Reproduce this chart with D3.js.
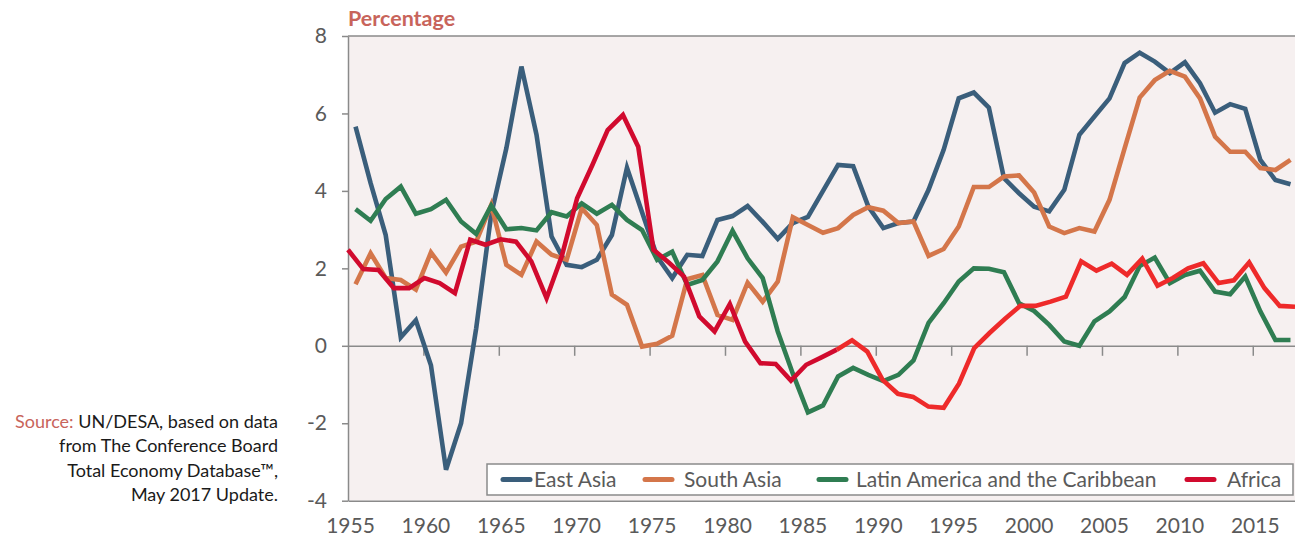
<!DOCTYPE html>
<meta charset="utf-8">

<style>
body {
  margin: 0;
  background: #fff;
}

.axis text, .legend text {
  font-family: Lato, "Open Sans", sans-serif;
  font-size: 21px;
  fill: #5a5a5a;
}

.axis path, .axis line, .frame {
  stroke: #8a8a8a;
  stroke-width: 1.5;
  fill: none;
}

.title text {
  font-family: Lato, "Open Sans", sans-serif;
  font-weight: 700;
  font-size: 21.5px;
  fill: #c8645b;
}

.source text {
  font-family: Lato, "Open Sans", sans-serif;
  font-size: 18px;
  fill: #1a1a1a;
}
</style>

<svg class="chart"></svg>

<script src="https://d3js.org/d3.v7.min.js"></script>
<script>

  // years on the x axis, one value per year for every series
  var years = d3.range(1955, 2018);
  var tickYears = [1955, 1960, 1965, 1970, 1975, 1980, 1985, 1990, 1995, 2000, 2005, 2010, 2015];
  var tickValuesY = [-4, -2, 0, 2, 4, 6, 8];

  var eastAsia = [
    5.66, 4.2, 2.86, 0.22, 0.66, -0.5, -3.2, -2.0, 0.45, 3.4,
    5.1, 7.21, 5.45, 2.82, 2.09, 2.03, 2.22, 2.86, 4.6, 3.45,
    2.3, 1.75, 2.35, 2.32, 3.25, 3.35, 3.61, 3.2, 2.76, 3.17,
    3.33, 4.0, 4.67, 4.64, 3.6, 3.04, 3.17, 3.21, 4.03, 5.06,
    6.39, 6.54, 6.15, 4.33, 3.94, 3.59, 3.47, 4.03, 5.45, 5.92,
    6.39, 7.3, 7.57, 7.34, 7.04, 7.32, 6.78, 6.02, 6.24, 6.12,
    4.8, 4.28, 4.17
  ];

  var southAsia = [
    1.59, 2.39, 1.75, 1.70, 1.45, 2.41, 1.89, 2.56, 2.69, 3.64,
    2.09, 1.83, 2.69, 2.35, 2.22, 3.55, 3.12, 1.32, 1.06, -0.02,
    0.05, 0.26, 1.72, 1.83, 0.8, 0.67, 1.63, 1.14, 1.66, 3.32,
    3.12, 2.92, 3.04, 3.38, 3.58, 3.49, 3.17, 3.21, 2.32, 2.5,
    3.08, 4.1, 4.1, 4.37, 4.4, 3.96, 3.08, 2.91, 3.04, 2.95,
    3.77, 5.1, 6.41, 6.86, 7.1, 6.95, 6.39, 5.4, 5.01, 5.01,
    4.59, 4.54, 4.8
  ];

  var latinAmerica = [
    3.53, 3.23, 3.79, 4.11, 3.41, 3.53, 3.77, 3.21, 2.89, 3.62,
    3.01, 3.04, 2.98, 3.45, 3.34, 3.68, 3.41, 3.64, 3.25, 2.99,
    2.22, 2.43, 1.57, 1.70, 2.18, 2.97, 2.26, 1.75, 0.37, -0.72,
    -1.72, -1.54, -0.79, -0.57, -0.75, -0.91, -0.75, -0.38, 0.59, 1.10,
    1.66, 2.0, 1.99, 1.9, 1.1, 0.9, 0.54, 0.11, 0.0, 0.63,
    0.89, 1.26, 2.06, 2.28, 1.62, 1.83, 1.94, 1.4, 1.33, 1.79,
    0.89, 0.15, 0.15
  ];

  var africa = [
    2.48, 1.98, 1.96, 1.49, 1.49, 1.75, 1.62, 1.36, 2.74, 2.61,
    2.75, 2.69, 2.18, 1.23, 2.32, 3.81, 4.67, 5.57, 5.96, 5.14,
    2.48, 2.15, 1.79, 0.76, 0.37, 1.08, 0.11, -0.45, -0.47, -0.9,
    -0.49, -0.3, -0.1, 0.14, -0.15, -0.88, -1.24, -1.32, -1.57, -1.6,
    -0.98, -0.06, 0.33, 0.69, 1.03, 1.03, 1.14, 1.27, 2.18, 1.94,
    2.12, 1.83, 2.25, 1.55, 1.75, 2.0, 2.13, 1.62, 1.69, 2.15,
    1.49, 1.03, 1.01
  ];

  var seriesNames = ["East Asia", "South Asia", "Latin America and the Caribbean", "Africa"];
  var seriesColors = ["#3a5e7b", "#d4764a", "#2f7d52", "#d10a2e"];
  var africaLateColor = "#ee2a2a";
  var africaColorBreak = 1987;

  var sourceLines = [
    "UN/DESA, based on data",
    "from The Conference Board",
    "Total Economy Database\u2122,",
    "May 2017 Update."
  ];

  var outerWidth  = 1295;
  var outerHeight = 538;

  var plot = {
    left: 348,
    top: 36,
    right: 1295,
    bottom: 500.7
  };

  var svg = d3.select(".chart")
      .attr("width", outerWidth)
      .attr("height", outerHeight);

  var xScale = d3.scaleLinear()
      .domain([1955, 2017.8])
      .range([plot.left, plot.right]);

  // Africa is plotted across the full width in the original
  var africaX = d3.scaleLinear()
      .domain([1955, 2017])
      .range([plot.left, plot.right]);

  var yScale = d3.scaleLinear()
      .domain([-4, 8])
      .range([plot.bottom, plot.top]);

  svg.append("rect")
      .attr("x", plot.left)
      .attr("y", plot.top)
      .attr("width", plot.right - plot.left)
      .attr("height", plot.bottom - plot.top)
      .attr("fill", "#f6f0f0");

  svg.append("line")
      .attr("class", "frame")
      .attr("x1", plot.left)
      .attr("x2", plot.right)
      .attr("y1", plot.top)
      .attr("y2", plot.top);

  // y axis
  svg.append("g")
      .attr("class", "y axis")
      .attr("transform", "translate(" + plot.left + ",0)")
      .call(d3.axisLeft(yScale)
        .tickValues(tickValuesY)
        .tickSize(6)
        .tickSizeOuter(0)
        .tickPadding(15)
        .tickFormat(function(d) { return String(d); }));

  // zero line with year ticks
  svg.append("g")
      .attr("class", "zero axis")
      .attr("transform", "translate(0," + yScale(0) + ")")
      .call(d3.axisBottom(xScale)
        .tickValues(tickYears.slice(1))
        .tickSize(10)
        .tickSizeOuter(0)
        .tickFormat(""));

  // bottom axis with labels
  var xAxis = svg.append("g")
      .attr("class", "x axis")
      .attr("transform", "translate(0," + plot.bottom + ")")
      .call(d3.axisBottom(xScale)
        .tickValues(tickYears)
        .tickSize(0)
        .tickSizeOuter(0)
        .tickPadding(17)
        .tickFormat(function(d) { return String(d); }));

  xAxis.selectAll("text").attr("dx", 2);

  var line = d3.line()
      .x(function(d) { return xScale(d.year + 0.5); })
      .y(function(d) { return yScale(d.value); });

  var africaLine = d3.line()
      .x(function(d) { return africaX(d.year); })
      .y(function(d) { return yScale(d.value); });

  function toPoints(values) {
    return values.map(function(v, i) { return { year: years[i], value: v }; });
  }

  var series = [eastAsia, southAsia, latinAmerica];

  var lines = svg.append("g").attr("class", "lines");

  lines.selectAll("path.series")
      .data(series)
    .enter().append("path")
      .attr("class", "series")
      .attr("d", function(d) { return line(toPoints(d)); })
      .attr("fill", "none")
      .attr("stroke", function(d, i) { return seriesColors[i]; })
      .attr("stroke-width", 4.6);

  var africaPoints = toPoints(africa);
  var africaParts = [
    { points: africaPoints.filter(function(d) { return d.year <= africaColorBreak; }), color: seriesColors[3] },
    { points: africaPoints.filter(function(d) { return d.year >= africaColorBreak; }), color: africaLateColor }
  ];

  lines.selectAll("path.africa")
      .data(africaParts)
    .enter().append("path")
      .attr("class", "africa")
      .attr("d", function(d) { return africaLine(d.points); })
      .attr("fill", "none")
      .attr("stroke", function(d) { return d.color; })
      .attr("stroke-width", 4.6);

  // legend
  var legendBox = { x: 487, y: 464, width: 806, height: 31 };
  var legendLineX = [503, 645, 819, 1187];
  var legendTextX = [534, 684, 856, 1227];

  var legend = svg.append("g").attr("class", "legend");

  legend.append("rect")
      .attr("x", legendBox.x)
      .attr("y", legendBox.y)
      .attr("width", legendBox.width)
      .attr("height", legendBox.height)
      .attr("fill", "#fff")
      .attr("stroke", "#8a8a8a")
      .attr("stroke-width", 1.5);

  var items = legend.selectAll("g.item")
      .data(seriesNames)
    .enter().append("g")
      .attr("class", "item");

  items.append("line")
      .attr("x1", function(d, i) { return legendLineX[i]; })
      .attr("x2", function(d, i) { return legendLineX[i] + 27; })
      .attr("y1", legendBox.y + 15.5)
      .attr("y2", legendBox.y + 15.5)
      .attr("stroke", function(d, i) { return seriesColors[i]; })
      .attr("stroke-width", 5)
      .attr("stroke-linecap", "round");

  items.append("text")
      .attr("x", function(d, i) { return legendTextX[i]; })
      .attr("y", legendBox.y + 23)
      .text(function(d) { return d; });

  // title
  svg.append("g")
      .attr("class", "title")
    .append("text")
      .attr("x", plot.left)
      .attr("y", 26)
      .text("Percentage");

  // source note
  var source = svg.append("g")
      .attr("class", "source")
      .attr("text-anchor", "end");

  source.selectAll("text")
      .data(sourceLines)
    .enter().append("text")
      .attr("x", 278)
      .attr("y", function(d, i) { return 427.7 + i * 24.5; })
      .each(function(d, i) {
        var t = d3.select(this);
        if (i === 0) {
          t.append("tspan").attr("fill", "#c8645b").text("Source: ");
        }
        t.append("tspan").text(d);
      });

</script>
